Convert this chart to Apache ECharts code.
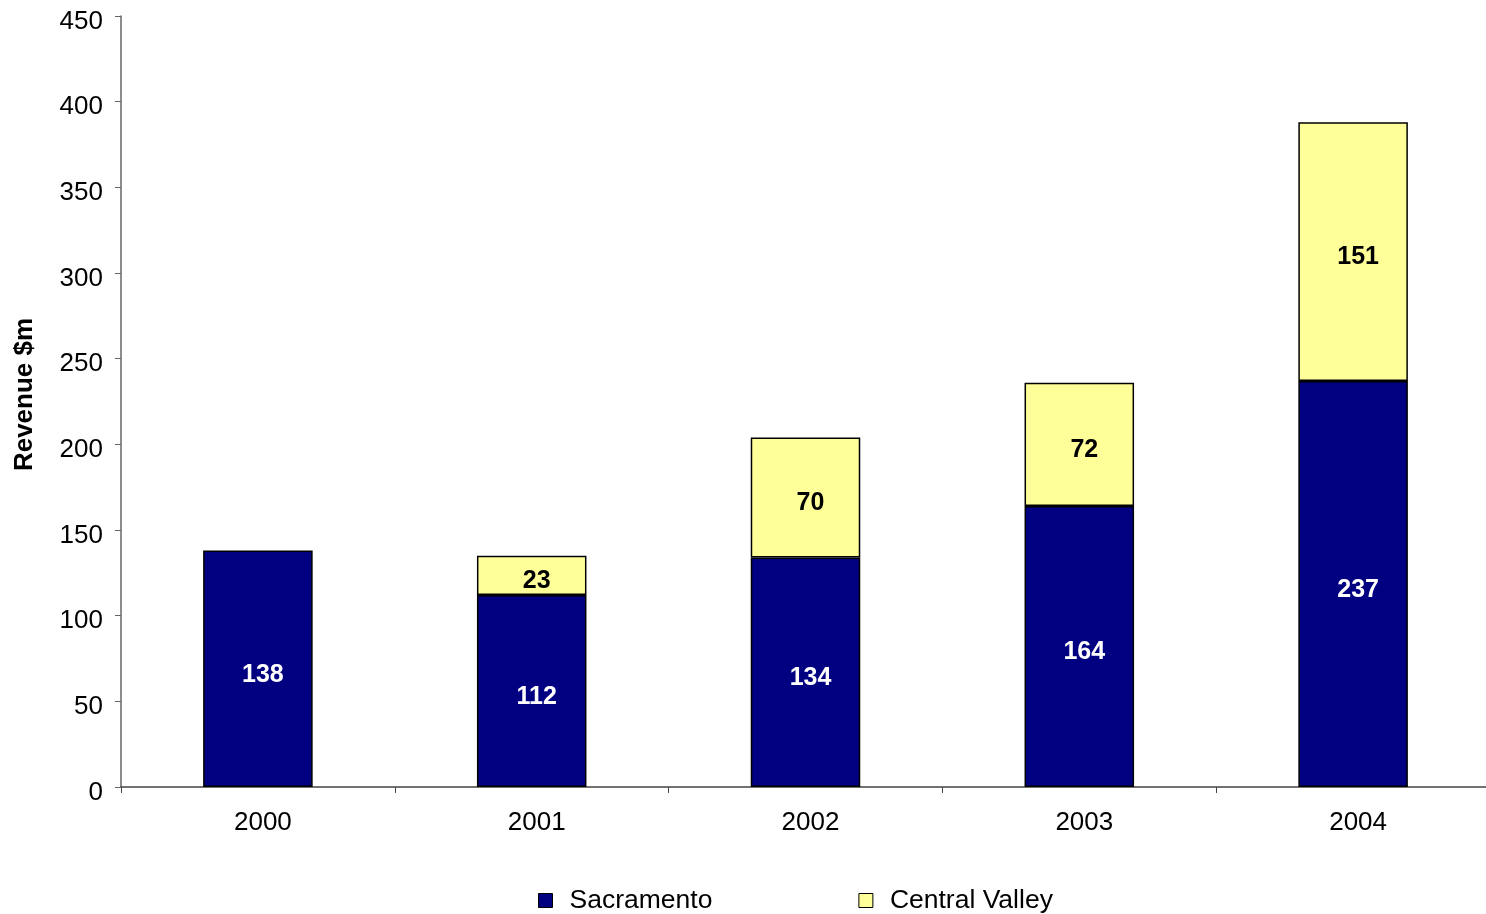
<!DOCTYPE html>
<html><head><meta charset="utf-8">
<script src="https://cdn.jsdelivr.net/npm/echarts@6/dist/echarts.min.js"></script>
<style>html,body{margin:0;padding:0;background:#fff}#c{width:1486px;height:914px}</style>
</head><body><div id="c"></div>
<script>
const years = ['2000','2001','2002','2003','2004'];
const sacramento = [138,112,134,164,237];
const centralValley = [null,23,70,72,151];
const yTicks = {min:0,max:450,interval:50};

const chart = echarts.init(document.getElementById('c'));
const font = 'Liberation Sans, Arial, sans-serif';
chart.setOption({
  animation:false,
  grid:{left:121,right:-4,top:16,bottom:127,containLabel:false,outerBoundsMode:'none'},
  legend:{
    top:882,left:533,itemWidth:14,itemHeight:14,itemGap:146,icon:'rect',
    textStyle:{fontFamily:font,fontSize:26.5,color:'#000',padding:[0,0,0,12]},
    data:[{name:'Sacramento',itemStyle:{borderColor:'#000',borderWidth:1}},{name:'Central Valley',itemStyle:{borderColor:'#000',borderWidth:1}}]
  },
  xAxis:{
    type:'category',data:years,
    axisLine:{lineStyle:{color:'#444',width:1.5}},
    axisTick:{show:true,length:6,lineStyle:{color:'#444'}},
    axisLabel:{fontFamily:font,fontSize:26,color:'#000',margin:23,padding:[0,0,0,10]}
  },
  yAxis:{
    type:'value',min:yTicks.min,max:yTicks.max,interval:yTicks.interval,
    name:'Revenue $m',nameLocation:'middle',nameGap:83,nameRotate:90,
    nameTextStyle:{fontFamily:font,fontSize:26,fontWeight:'bold',color:'#000',padding:[0,0,0,14]},
    axisLine:{show:true,lineStyle:{color:'#666',width:1.5}},
    axisTick:{show:true,length:6,inside:false,lineStyle:{color:'#666'}},
    splitLine:{show:false},
    axisLabel:{fontFamily:font,fontSize:26,color:'#000',margin:18,verticalAlign:'top',lineHeight:11}
  },
  series:[
    {name:'Sacramento',type:'bar',stack:'t',data:sacramento,barWidth:'40%',
     itemStyle:{color:'#000080',borderColor:'#000',borderWidth:1.5},
     label:{show:true,position:'inside',offset:[5,6],fontFamily:font,fontSize:25,fontWeight:'bold',color:'#fff'}},
    {name:'Central Valley',type:'bar',stack:'t',data:centralValley,barWidth:'40%',
     itemStyle:{color:'#FFFF99',borderColor:'#000',borderWidth:1.5},
     label:{show:true,position:'inside',offset:[5,6],fontFamily:font,fontSize:25,fontWeight:'bold',color:'#000'}}
  ]
});
</script></body></html>
